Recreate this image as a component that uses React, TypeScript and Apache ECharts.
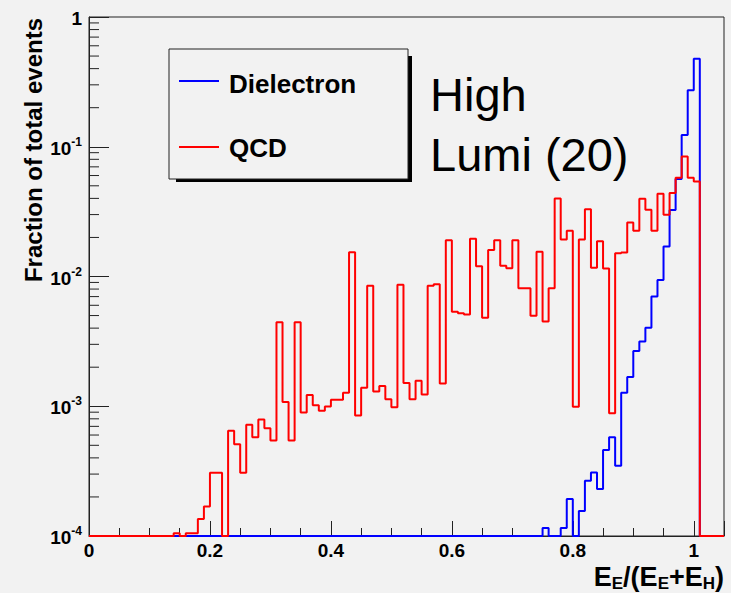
import React, { useEffect, useRef } from "react";
import * as echarts from "echarts";

// Histogram binning
const BIN_WIDTH = 0.01;
const X_MIN = 0;
const X_MAX = 1.05;
const Y_MIN = 1e-4;
const Y_MAX = 1;

// Dielectron: bin contents starting at bin 75 (0.75-0.76) up to bin 100 (1.00-1.01)
const dielectronFirstBin = 75;
const dielectronValues = [
  1.15e-4, 0, 0, 1.15e-4, 1.93e-4, 0, 1.56e-4, 2.67e-4, 3.08e-4, 2.3e-4,
  4.6e-4, 5.76e-4, 3.48e-4, 1.27e-3, 1.68e-3, 2.67e-3, 3.15e-3, 4.03e-3, 7.0e-3, 9.4e-3,
  0.017, 0.0325, 0.0564, 0.123, 0.272, 0.477,
];

// QCD: bin contents starting at bin 14 (0.14-0.15) up to bin 100 (1.00-1.01)
const qcdFirstBin = 14;
const qcdValues = [
  1.05e-4, 0, 1.05e-4, 1.05e-4, 1.35e-4, 1.69e-4, 3.07e-4, 3.07e-4, 0, 6.46e-4,
  5.1e-4, 3.07e-4, 7.19e-4, 5.78e-4, 7.9e-4, 6.78e-4, 5.44e-4, 4.45e-3, 1.08e-3, 5.44e-4,
  4.45e-3, 8.94e-4, 1.22e-3, 1.02e-3, 9.22e-4, 9.95e-4, 1.12e-3, 1.12e-3, 1.27e-3, 0.0154,
  8.48e-4, 1.39e-3, 8.48e-3, 1.3e-3, 1.43e-3, 1.13e-3, 9.84e-4, 8.63e-3, 1.51e-3, 1.13e-3,
  1.57e-3, 1.23e-3, 8.48e-3, 8.7e-3, 1.5e-3, 0.019, 5.35e-3, 5.2e-3, 5.1e-3, 0.0195,
  0.012, 4.8e-3, 0.016, 0.019, 0.0121, 0.0116, 0.019, 8.13e-3, 8.13e-3, 4.98e-3,
  0.0155, 4.5e-3, 8.13e-3, 0.0399, 0.0193, 0.0225, 9.9e-4, 0.0193, 0.033, 0.0117,
  0.0187, 0.0115, 8.84e-4, 0.0151, 0.0153, 0.0261, 0.0225, 0.0397, 0.0327, 0.0225,
  0.0434, 0.0299, 0.044, 0.0577, 0.0842, 0.0577, 0.054,
];

// Log-axis minor tick positions (2..9 x each decade)
const yMinorTicks = [
  2e-4, 3e-4, 4e-4, 5e-4, 6e-4, 7e-4, 8e-4, 9e-4,
  2e-3, 3e-3, 4e-3, 5e-3, 6e-3, 7e-3, 8e-3, 9e-3,
  2e-2, 3e-2, 4e-2, 5e-2, 6e-2, 7e-2, 8e-2, 9e-2,
  2e-1, 3e-1, 4e-1, 5e-1, 6e-1, 7e-1, 8e-1, 9e-1,
];

const FONT = "'Liberation Sans', Arial, Helvetica, sans-serif";

function histPoints(first: number, values: number[]): number[][] {
  const nBins = Math.round((X_MAX - X_MIN) / BIN_WIDTH);
  const pts: number[][] = [];
  for (let i = 0; i < nBins; i++) {
    const raw = i >= first && i < first + values.length ? values[i - first] : 0;
    const y = raw > Y_MIN ? raw : Y_MIN; // empty bins sit on the frame bottom
    const x0 = +(X_MIN + i * BIN_WIDTH).toFixed(4);
    const x1 = +(X_MIN + (i + 1) * BIN_WIDTH).toFixed(4);
    pts.push([x0, y], [x1, y]);
  }
  return pts;
}

export default function App() {
  const ref = useRef<HTMLDivElement>(null);

  useEffect(() => {
    if (!ref.current) return;
    const chart = echarts.init(ref.current, undefined, { renderer: "svg" });

    const option: any = {
      animation: false,
      backgroundColor: "#f2f2f2",
      grid: {
        left: 89,
        right: 7,
        top: 17,
        bottom: 57,
        show: true,
        borderColor: "#222",
        borderWidth: 1,
        backgroundColor: "transparent",
      },
      xAxis: {
        type: "value",
        min: X_MIN,
        max: X_MAX,
        interval: 0.2,
        axisLine: { show: true, lineStyle: { color: "#222", width: 1 } },
        axisTick: { show: true, inside: true, length: 15, lineStyle: { color: "#222", width: 1 } },
        minorTick: { show: true, splitNumber: 4, length: 8, lineStyle: { color: "#222", width: 1 } },
        splitLine: { show: false },
        minorSplitLine: { show: false },
        axisLabel: {
          showMaxLabel: false,
          margin: 6,
          fontFamily: FONT,
          fontWeight: "bold",
          fontSize: 19,
          lineHeight: 17,
          color: "#000",
        },
      },
      yAxis: {
        type: "log",
        logBase: 10,
        min: Y_MIN,
        max: Y_MAX,
        axisLine: { show: true, lineStyle: { color: "#222", width: 1 } },
        axisTick: { show: true, inside: true, length: 20, lineStyle: { color: "#222", width: 1 } },
        splitLine: { show: false },
        axisLabel: {
          margin: 7,
          formatter: (v: number) => {
            const e = Math.round(Math.log10(v));
            return e === 0 ? "{b|1}" : "{b|10}{s|" + e + "}";
          },
          rich: {
            b: { fontFamily: FONT, fontWeight: "bold", fontSize: 19, lineHeight: 22, color: "#000", verticalAlign: "bottom" },
            s: { fontFamily: FONT, fontWeight: "bold", fontSize: 12, lineHeight: 12, color: "#000", verticalAlign: "top" },
          },
        },
      },
      series: [
        {
          name: "Dielectron",
          type: "line",
          data: histPoints(dielectronFirstBin, dielectronValues),
          symbol: "none",
          showSymbol: false,
          clip: false,
          silent: true,
          lineStyle: { color: "#0000ff", width: 2 },
          z: 3,
        },
        {
          name: "QCD",
          type: "line",
          data: histPoints(qcdFirstBin, qcdValues),
          symbol: "none",
          showSymbol: false,
          clip: false,
          silent: true,
          lineStyle: { color: "#ff0000", width: 2 },
          z: 4,
        },
        {
          type: "custom",
          silent: true,
          clip: false,
          z: 5,
          data: yMinorTicks.map((v) => [X_MIN, v]),
          renderItem: (params: any, api: any) => {
            const p = api.coord([X_MIN, api.value(1)]);
            return {
              type: "line",
              shape: { x1: p[0], y1: p[1], x2: p[0] + 10, y2: p[1] },
              style: { stroke: "#222", lineWidth: 1 },
            };
          },
        },
      ],
      graphic: [
        // y-axis title
        {
          type: "text",
          x: 33,
          y: 18,
          rotation: Math.PI / 2,
          style: {
            text: "Fraction of total events",
            fontFamily: FONT,
            fontWeight: "bold",
            fontSize: 24,
            fill: "#000",
            align: "right",
            verticalAlign: "middle",
          },
        },
        // x-axis title
        {
          type: "text",
          x: 724,
          y: 587,
          style: {
            text: "{b|E}{s|E}{b|/(E}{s|E}{b|+E}{s|H}{b|)}",
            align: "right",
            verticalAlign: "bottom",
            rich: {
              b: { fontFamily: FONT, fontWeight: "bold", fontSize: 27, lineHeight: 24, fill: "#000", verticalAlign: "top" },
              s: { fontFamily: FONT, fontWeight: "bold", fontSize: 17, lineHeight: 15, padding: [12, 0, 0, 0], fill: "#000", verticalAlign: "top" },
            },
          },
        },
        // legend shadow and box
        {
          type: "rect",
          shape: { x: 176, y: 56, width: 236, height: 126 },
          style: { fill: "#000" },
        },
        {
          type: "rect",
          shape: { x: 169, y: 49, width: 239, height: 130 },
          style: { fill: "#f2f2f2", stroke: "#222", lineWidth: 1 },
        },
        {
          type: "line",
          shape: { x1: 179, y1: 81, x2: 219, y2: 81 },
          style: { stroke: "#0000ff", lineWidth: 2 },
        },
        {
          type: "text",
          x: 229,
          y: 84,
          style: { text: "Dielectron", fontFamily: FONT, fontWeight: "bold", fontSize: 26, fill: "#000", verticalAlign: "middle" },
        },
        {
          type: "line",
          shape: { x1: 179, y1: 147, x2: 219, y2: 147 },
          style: { stroke: "#ff0000", lineWidth: 2 },
        },
        {
          type: "text",
          x: 229,
          y: 148,
          style: { text: "QCD", fontFamily: FONT, fontWeight: "bold", fontSize: 26, fill: "#000", verticalAlign: "middle" },
        },
        // annotation
        {
          type: "text",
          x: 430,
          y: 94,
          style: { text: "High", fontFamily: FONT, fontSize: 47, fill: "#000", verticalAlign: "middle" },
        },
        {
          type: "text",
          x: 430,
          y: 154,
          style: { text: "Lumi (20)", fontFamily: FONT, fontSize: 47, fill: "#000", verticalAlign: "middle" },
        },
      ],
    };

    chart.setOption(option);
    return () => {
      chart.dispose();
    };
  }, []);

  return (
    <div
      ref={ref}
      style={{ position: "fixed", left: 0, top: 0, width: 731, height: 593, background: "#f2f2f2" }}
    />
  );
}
